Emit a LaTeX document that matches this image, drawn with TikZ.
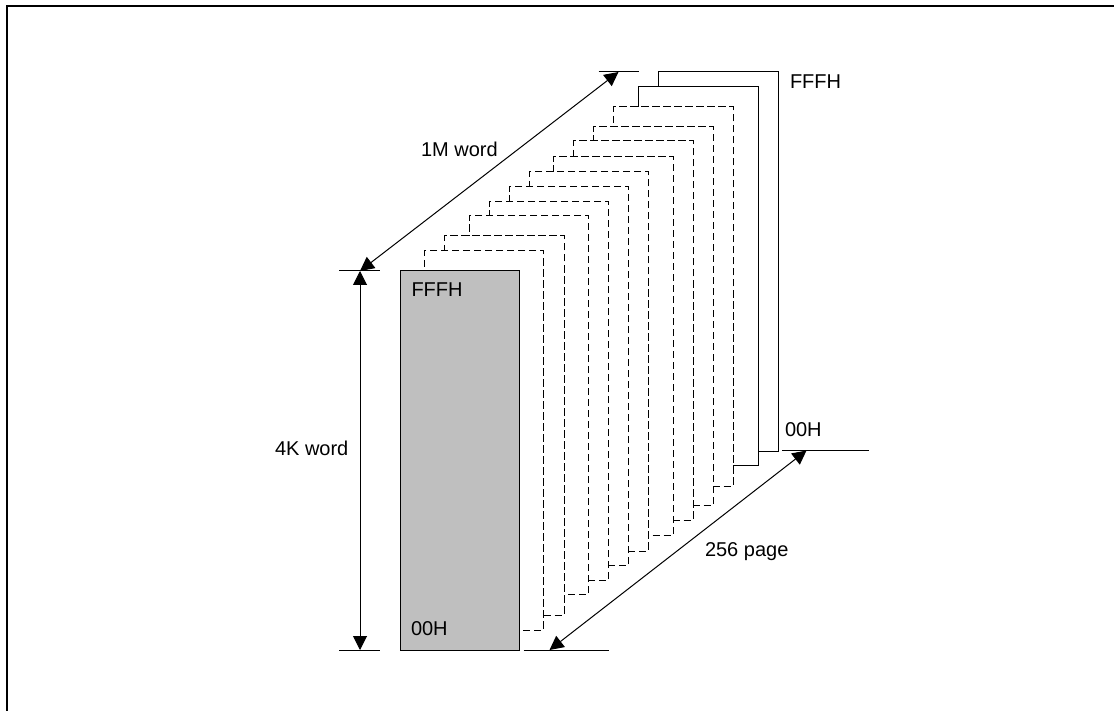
\documentclass[tikz,border=0pt]{standalone}
\usepackage{fontspec}
\setmainfont{Liberation Sans}
\usetikzlibrary{arrows.meta}

\begin{document}
\begin{tikzpicture}[
    x=0.5pt, y=-0.5pt,
    line width=0.5pt,
    pagebox/.style={draw, fill=white, anchor=north west, inner sep=0, outer sep=0,
                    minimum width=59.75pt, minimum height=189.5pt},
    hiddenpage/.style={pagebox, dash pattern=on 3.6pt off 1.9pt},
    frontpage/.style={pagebox, fill=black!25},
    arrow/.style={<->, >={Triangle[length=7pt, width=7pt]}},
    label/.style={anchor=base west, inner sep=0, outer sep=0}
]
    \useasboundingbox (0,0) rectangle (1114,711);
    \draw[line width=1pt] (7,711) -- (7,6) -- (1114,6);

    % pages, back to front
    \node[pagebox] (p12) at (658.5,72) {};
    \node[pagebox] (p11) at (638.5,86.5) {};
    \foreach \i/\x/\y in {10/613.5/107, 9/593.5/126.5, 8/573.5/141, 7/553.5/156.5,
                          6/529/172, 5/509/186.5, 4/489/201.5, 3/469/215.5,
                          2/444.5/236, 1/424/251}
        \node[hiddenpage] (p\i) at (\x,\y) {};
    \node[frontpage] (p0) at (400,271) {};

    \node[label] (ftop)   at (790,88.5)  {FFFH};
    \node[label] (zback)  at (785,436)   {00H};
    \node[label] (ffront) at (411.5,296.5) {FFFH};
    \node[label] (zfront) at (411,635.5) {00H};
    \node[label] (mword)  at (421,156.5) {1M word};
    \node[label] (kword)  at (275,455)   {4K word};
    \node[label] (npage)  at (705,556)   {256 page};

    \coordinate (tl) at (339,271);
    \coordinate (tr) at (380,271);
    \coordinate (bl) at (339,650);
    \coordinate (br) at (380,650);
    \coordinate (ul) at (598.5,72);
    \coordinate (ur) at (638.5,72);
    \coordinate (sl) at (523.5,650);
    \coordinate (sr) at (609,650);
    \coordinate (el) at (782,450.5);
    \coordinate (er) at (868.5,450.5);

    \draw (tl) -- (tr);
    \draw (bl) -- (br);
    \draw (ul) -- (ur);
    \draw (sl) -- (sr);
    \draw (el) -- (er);

    \coordinate (kt) at (360,271);
    \coordinate (kb) at (360,650);
    \coordinate (mt) at (618.5,72);
    \coordinate (nb) at (549.5,650);
    \coordinate (nt) at (806.5,450.5);

    \draw[arrow] (kt) -- (kb);
    \draw[arrow] (kt) -- (mt);
    \draw[arrow] (nb) -- (nt);
\end{tikzpicture}
\end{document}
